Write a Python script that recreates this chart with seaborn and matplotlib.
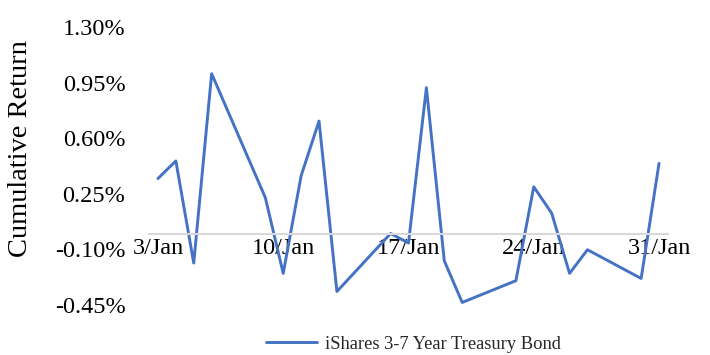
import matplotlib
matplotlib.use("Agg")
import matplotlib.pyplot as plt
import matplotlib.ticker as mticker
import pandas as pd
import seaborn as sns

# Trading days in January 2017 and the ETF's cumulative return (%)
dates = ["2017-01-03", "2017-01-04", "2017-01-05", "2017-01-06",
         "2017-01-09", "2017-01-10", "2017-01-11", "2017-01-12", "2017-01-13",
         "2017-01-16", "2017-01-17", "2017-01-18", "2017-01-19", "2017-01-20",
         "2017-01-23", "2017-01-24", "2017-01-25", "2017-01-26", "2017-01-27",
         "2017-01-30", "2017-01-31"]
cum_return = [0.346, 0.457, -0.186, 1.006,
              0.226, -0.251, 0.363, 0.708, -0.365,
              0.000, -0.060, 0.918, -0.172, -0.434,
              -0.297, 0.294, 0.128, -0.251, -0.102,
              -0.283, 0.442]
series_name = "iShares 3-7 Year Treasury Bond"

tick_dates = ["2017-01-03", "2017-01-10", "2017-01-17", "2017-01-24", "2017-01-31"]
tick_labels = ["3/Jan", "10/Jan", "17/Jan", "24/Jan", "31/Jan"]
y_ticks = [-0.45, -0.10, 0.25, 0.60, 0.95, 1.30]

df = pd.DataFrame({"Date": pd.to_datetime(dates), "Return": cum_return,
                   "Series": series_name})

sns.set_theme(style="white")
plt.rcParams["font.family"] = ["Liberation Serif", "DejaVu Serif"]

fig = plt.figure(figsize=(7.1, 3.55), dpi=100)
ax = fig.add_axes([149 / 710, 1 - 305 / 355, 519 / 710, 278 / 355])

sns.lineplot(data=df, x="Date", y="Return", hue="Series",
             palette=["#4472C4"], linewidth=2.1, ax=ax, legend=False)

# Axes limits: half a day of padding around the first and last dates
x0 = pd.Timestamp(dates[0]) - pd.Timedelta(hours=12)
x1 = pd.Timestamp(dates[-1]) + pd.Timedelta(hours=12)
ax.set_xlim(x0, x1)
ax.set_ylim(y_ticks[0], y_ticks[-1])

ax.yaxis.set_major_locator(mticker.FixedLocator(y_ticks))
ax.yaxis.set_major_formatter(mticker.FuncFormatter(lambda v, _: f"{v:.2f}%"))
ax.set_xticks(pd.to_datetime(tick_dates))
ax.xaxis.set_major_formatter(mticker.FixedFormatter(tick_labels))

# Horizontal category axis drawn at zero
for side in ["top", "right", "left"]:
    ax.spines[side].set_visible(False)
ax.spines["bottom"].set_position(("data", 0))
ax.spines["bottom"].set_color("#D9D9D9")
ax.spines["bottom"].set_linewidth(1.5)
ax.tick_params(axis="x", length=0, pad=3, labelsize=17.5, labelcolor="#000000")
ax.tick_params(axis="y", length=0, pad=17, labelsize=17.5, labelcolor="#000000")
ax.grid(False)

ax.set_xlabel("")
ax.set_ylabel("Cumulative Return", fontsize=20.5, color="#000000")
ax.yaxis.set_label_coords(-116 / 519, (305 - 148.5) / 278)

handle = plt.Line2D([], [], color="#4472C4", linewidth=2.1)
fig.legend([handle], [series_name], loc="center", bbox_to_anchor=(0.582, 0.03),
           frameon=False, fontsize=13.3, handlelength=2.8, handletextpad=0.4)

fig.savefig("out.png", dpi=100)
